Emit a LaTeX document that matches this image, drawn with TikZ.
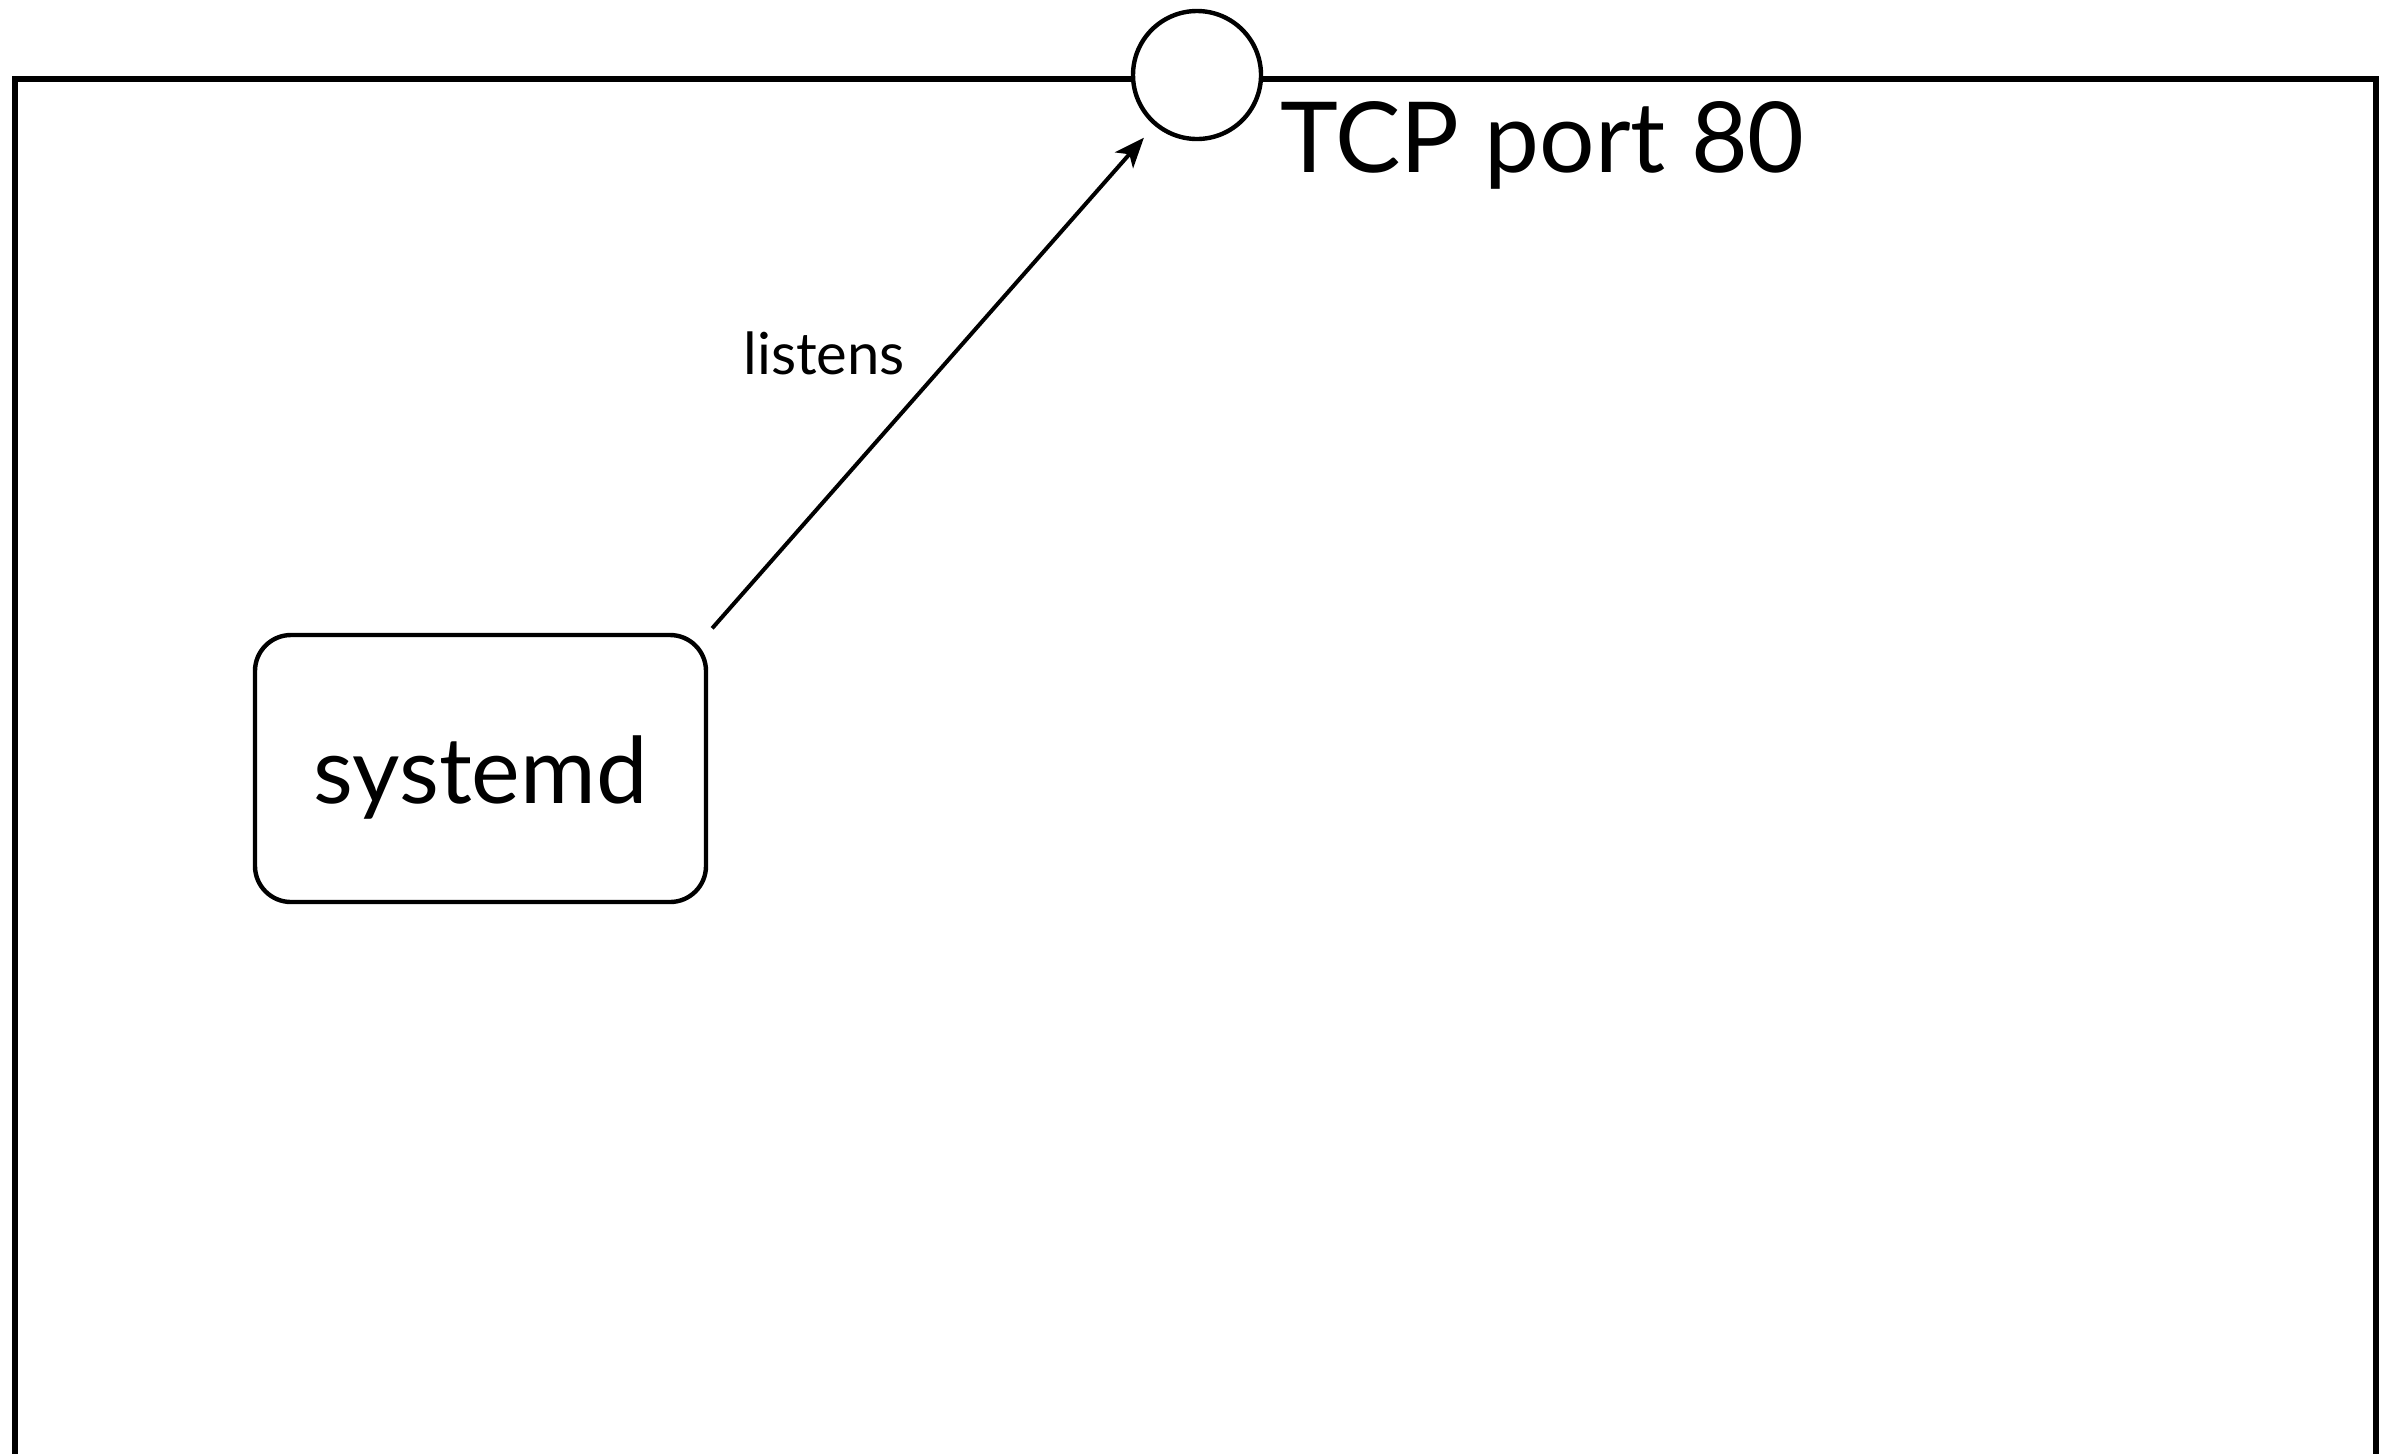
\documentclass[tikz,border=0pt]{standalone}
\usepackage{fontspec}
\setmainfont{Lato}
\usetikzlibrary{arrows.meta}
\begin{document}
\begin{tikzpicture}[x=0.5pt,y=-0.5pt,
  frame/.style={line width=2.6pt},
  portcircle/.style={circle,draw,line width=2.2pt,fill=white,minimum size=64pt,inner sep=0pt},
  procbox/.style={draw,rounded corners=18pt,line width=2.2pt,minimum width=225.5pt,minimum height=133.5pt,
    inner sep=0pt,text height=40pt,text depth=5.5pt,font=\fontsize{46}{50}\selectfont},
  lbl/.style={inner sep=0pt,anchor=base west},
  conn/.style={line width=2pt,-{Stealth[length=15pt,width=12pt,inset=4pt]}}]
\useasboundingbox (0,0) rectangle (2391,1453);
\clip (0,0) rectangle (2391,1453);
% enclosing boundary, open past the lower edge
\draw[frame] (15,1470) -- (15,79) -- (2376,79) -- (2376,1470);
% port on the boundary
\node[portcircle] (port) at (1197,75) {};
\node[lbl,font=\fontsize{49}{53}\selectfont] (portlbl) at (1280,172) {TCP port 80};
% process
\node[procbox] (sd) at (480.5,768.5) {systemd};
\draw[conn,shorten <=3pt,shorten >=8pt] (sd.north east) -- (port.230);
\node[lbl,font=\fontsize{29}{33}\selectfont] (lis) at (743,374) {listens};
\end{tikzpicture}
\end{document}
